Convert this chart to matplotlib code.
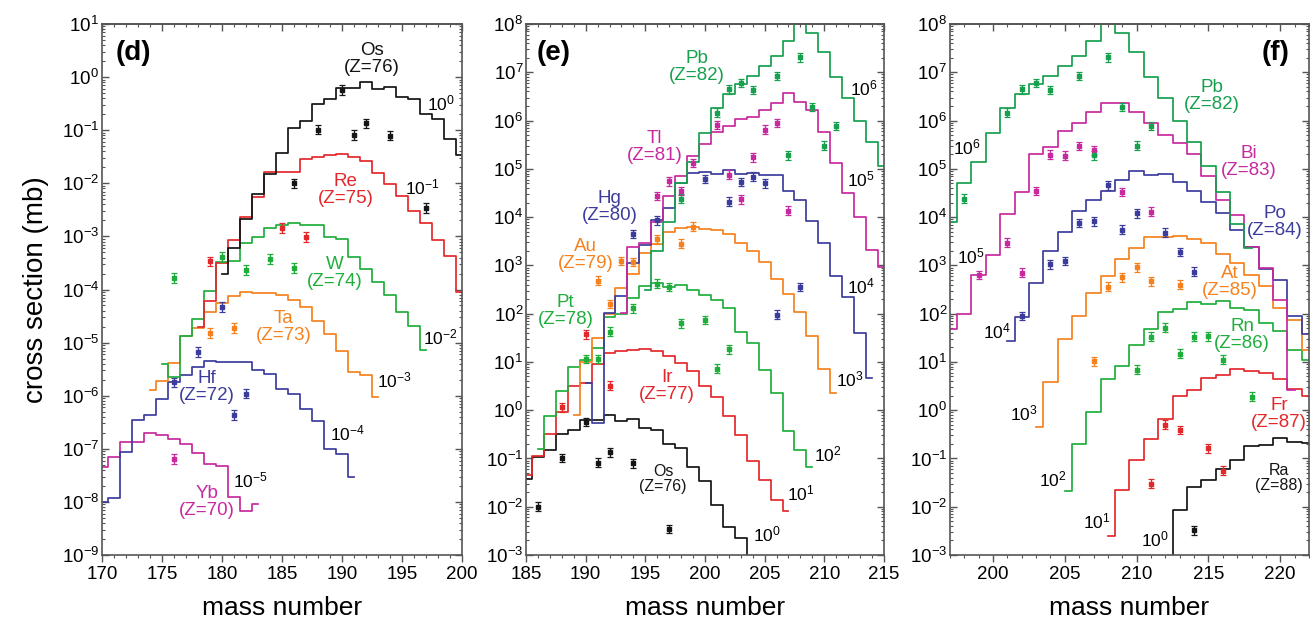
import numpy as np
import matplotlib
matplotlib.use("Agg")
import matplotlib.pyplot as plt
from matplotlib.ticker import LogLocator, MultipleLocator, NullFormatter

plt.rcParams['font.family'] = ['Liberation Sans', 'DejaVu Sans']
plt.rcParams['mathtext.fontset'] = 'custom'
plt.rcParams['mathtext.rm'] = 'Liberation Sans'
plt.rcParams['mathtext.it'] = 'Liberation Sans:italic'
plt.rcParams['mathtext.bf'] = 'Liberation Sans:bold'

# all values are log10(cross section / mb), unscaled
# calc: first mass number + one value per mass number, exp: measured points
os_a0 = 180
os_calc = [-3.70, -3.21, -2.67, -2.21, -1.82, -1.43, -0.96, -0.82, -0.50, -0.42, -0.21, -0.21, -0.10,
           -0.23, -0.18, -0.37, -0.41, -0.69, -0.79, -1.17, -1.47, -1.96, -2.41, -2.65, -3.6]
os_exp_a = [186, 188, 190, 191, 192, 194, 197]
os_exp = [-2.00, -0.99, -0.245, -1.09, -0.87, -1.10, -2.46]

re_a0 = 178
re_calc = [-3.71, -3.21, -2.50, -2.06, -1.64, -1.26, -0.79, -0.79, -0.79, -0.55, -0.50, -0.47, -0.45,
           -0.50, -0.58, -0.80, -1.02, -1.24, -1.52, -1.74, -2.06, -2.36, -3.05]
re_exp_a = [179, 185, 187]
re_exp = [-2.47, -1.84, -2.01]

w_a0 = 175
w_calc = [-3.40, -3.64, -2.87, -2.55, -2.02, -1.48, -1.47, -1.13, -1.01, -0.84, -0.79, -0.74, -0.79,
          -0.79, -1.02, -1.04, -1.39, -1.61, -1.86, -2.11, -2.42, -2.68, -3.13]
w_exp_a = [176, 180, 182, 184, 186]
w_exp = [-1.78, -1.39, -1.63, -1.43, -1.60]

ta_a0 = 174
ta_calc = [-2.89, -2.72, -2.39, -1.88, -1.73, -1.43, -1.25, -1.12, -1.05, -1.07, -1.07, -1.11, -1.19,
           -1.33, -1.60, -1.84, -2.16, -2.56, -2.61, -3.03]
ta_exp_a = [179, 181]
ta_exp = [-1.82, -1.73]

hf_a0 = 170
hf_calc = [-4.01, -3.92, -3.06, -2.46, -2.36, -2.06, -1.74, -1.61, -1.45, -1.35, -1.37, -1.37, -1.37,
           -1.52, -1.59, -1.87, -1.97, -2.25, -2.48, -3.01, -3.10, -3.54]
hf_exp_a = [176, 178, 180, 181, 182]
hf_exp = [-1.75, -1.18, -0.33, -2.36, -1.96]

yb_a0 = 170
yb_calc = [-2.35, -2.15, -1.87, -1.87, -1.71, -1.74, -1.82, -1.91, -2.07, -2.29, -2.32, -2.91, -3.17, -3.04]
yb_exp_a = [176]
yb_exp = [-2.19]

ir_a0 = 185
ir_calc = [-2.34, -1.94, -1.50, -1.03, -0.50, -0.44, -0.05, 0.18, 0.22, 0.25, 0.26, 0.22, 0.13,
           -0.03, -0.18, -0.49, -0.72, -1.12, -1.51, -2.06, -2.44, -2.86, -3.08]
ir_exp_a = [188, 190, 192]
ir_exp = [-0.94, 0.57, -0.49]

pt_a0 = 186
pt_calc = [-2.81, -2.12, -1.60, -1.10, -0.96, -0.71, -0.06, 0.00, 0.32, 0.58, 0.63, 0.55, 0.60,
           0.49, 0.39, 0.29, 0.11, -0.37, -0.61, -1.16, -1.65, -2.44, -2.82, -3.18]
pt_exp_a = [190, 191, 192, 194, 196, 197, 198, 200, 201, 202]
pt_exp = [-0.94, -0.94, -0.37, 0.11, 0.62, 0.55, -0.20, -0.13, -1.14, -0.74]

au_a0 = 189
au_calc = [-3.10, -2.01, -1.51, -1.00, -0.47, -0.18, 0.25, 0.45, 0.69, 0.77, 0.80, 0.76, 0.73,
           0.65, 0.47, 0.30, 0.08, -0.28, -0.59, -0.97, -1.46, -2.15, -2.64]
au_exp_a = [191, 192, 193, 194, 196, 198, 199]
au_exp = [-0.32, -0.80, 0.09, 0.07, 0.54, 0.45, 0.80]

hg_a0 = 190
hg_calc = [-3.43, -4.27, -1.99, -1.64, -0.96, -0.58, -0.06, 0.18, 0.71, 0.91, 0.93, 0.89, 0.98,
           0.89, 0.92, 0.87, 0.87, 0.55, 0.36, -0.08, -0.53, -1.23, -1.65, -2.41, -3.34]
hg_exp_a = [194, 196, 200, 202, 203, 204, 205, 206, 208]
hg_exp = [-0.35, -0.07, 0.79, 0.32, 0.73, 0.84, 0.70, -2.02, -1.45]

tl_a0 = 193
tl_calc = [-2.99, -1.61, -1.54, -1.11, -0.57, -0.14, 0.27, 0.52, 0.77, 0.89, 1.03, 1.08, 1.22,
           1.36, 1.58, 1.39, 1.22, 0.77, 0.13, -0.51, -0.99, -1.69, -2.04]
tl_exp_a = [196, 197, 198, 199, 201, 202, 203, 204, 205, 206, 207]
tl_exp = [-0.56, -0.26, -0.46, 0.12, 0.91, -0.12, -0.63, 0.24, 0.81, 0.95, -0.87]

pb_a0 = 195
pb_calc = [-3.5, -2.71, -2.10, -1.29, -0.85, -0.25, 0.25, 0.55, 0.75, 0.92, 1.12, 1.33, 1.64,
           2.6, 1.82, 1.42, 0.91, 0.47, 0.00, -0.44, -0.95, -1.49, -2.14, -2.63]
pb_exp_a = [198, 201, 202, 203, 204, 206, 207, 208, 209, 210, 211]
pb_exp = [-1.62, 0.16, 0.65, 0.78, 0.63, 0.92, -0.72, 1.31, 0.28, -0.52, -0.11]

bi_a0 = 197
bi_calc = [-3.31, -3.00, -2.19, -1.78, -0.94, -0.49, 0.31, 0.46, 0.78, 0.94, 1.18, 1.36, 1.36,
           1.18, 0.94, 0.70, 0.53, 0.30, -0.14, -0.64, -0.96, -1.61, -2.06, -2.71, -4.58]
bi_exp_a = [199, 201, 202, 203, 204, 205, 206, 207, 209, 211]
bi_exp = [-2.20, -1.53, -2.15, -0.46, 0.29, 0.27, 0.47, 0.38, -0.48, -0.89]

po_a0 = 201
po_calc = [-2.56, -2.07, -1.37, -0.70, -0.30, 0.13, 0.36, 0.55, 0.77, 0.96, 0.88, 0.89, 0.72,
           0.55, 0.32, 0.08, -0.26, -0.61, -1.08, -1.30, -2.04, -2.43]
po_exp_a = [202, 204, 205, 206, 207, 208, 209, 210, 212, 213, 214]
po_exp = [-2.05, -0.98, -0.91, -0.12, -0.09, 0.66, -0.26, 0.08, -0.32, -0.72, -1.13]

at_a0 = 203
at_calc = [-3.34, -2.41, -1.53, -1.05, -0.58, -0.23, 0.14, 0.37, 0.58, 0.58, 0.61, 0.54, 0.47,
           0.24, 0.05, -0.20, -0.43, -0.89, -1.13, -1.75]
at_exp_a = [207, 208, 209, 210, 211, 213]
at_exp = [-1.99, -0.44, -0.25, -0.04, -0.33, -0.40]

rn_a0 = 205
rn_calc = [-3.68, -2.71, -2.03, -1.35, -1.08, -0.64, -0.32, 0.03, 0.09, 0.25, 0.21, 0.26, 0.11,
           0.08, -0.20, -0.35, -0.76, -0.96]
rn_exp_a = [210, 211, 212, 213, 214, 215, 216, 218]
rn_exp = [-1.16, -0.48, -0.29, -0.83, -0.48, -0.47, -0.95, -1.72]

fr_a0 = 208
fr_calc = [-3.60, -2.65, -2.03, -1.60, -1.18, -0.71, -0.58, -0.34, -0.28, -0.15, -0.18, -0.23,
           -0.36, -0.57, -0.70]
fr_exp_a = [211, 212, 213, 215, 216]
fr_exp = [-2.52, -1.30, -1.41, -1.79, -2.25]

ra_a0 = 212
ra_calc = [-4.0, -2.06, -1.59, -1.44, -1.22, -1.03, -0.75, -0.72, -0.58, -0.65, -0.68]
ra_exp_a = [214]
ra_exp = [-2.49]

BLACK = '#151515'
RED = '#e3282b'
GREEN = '#1fae3c'
PBGREEN = '#17a04e'
ORANGE = '#f5821f'
BLUE = '#3c3c9c'
MAGENTA = '#c72a9e'

nuclei = {
    'Os': (os_a0, os_calc, os_exp_a, os_exp, BLACK),
    'Re': (re_a0, re_calc, re_exp_a, re_exp, RED),
    'W': (w_a0, w_calc, w_exp_a, w_exp, GREEN),
    'Ta': (ta_a0, ta_calc, ta_exp_a, ta_exp, ORANGE),
    'Hf': (hf_a0, hf_calc, hf_exp_a, hf_exp, BLUE),
    'Yb': (yb_a0, yb_calc, yb_exp_a, yb_exp, MAGENTA),
    'Ir': (ir_a0, ir_calc, ir_exp_a, ir_exp, RED),
    'Pt': (pt_a0, pt_calc, pt_exp_a, pt_exp, GREEN),
    'Au': (au_a0, au_calc, au_exp_a, au_exp, ORANGE),
    'Hg': (hg_a0, hg_calc, hg_exp_a, hg_exp, BLUE),
    'Tl': (tl_a0, tl_calc, tl_exp_a, tl_exp, MAGENTA),
    'Pb': (pb_a0, pb_calc, pb_exp_a, pb_exp, PBGREEN),
    'Bi': (bi_a0, bi_calc, bi_exp_a, bi_exp, MAGENTA),
    'Po': (po_a0, po_calc, po_exp_a, po_exp, BLUE),
    'At': (at_a0, at_calc, at_exp_a, at_exp, ORANGE),
    'Rn': (rn_a0, rn_calc, rn_exp_a, rn_exp, GREEN),
    'Fr': (fr_a0, fr_calc, fr_exp_a, fr_exp, RED),
    'Ra': (ra_a0, ra_calc, ra_exp_a, ra_exp, BLACK),
}

ERR = 10 ** 0.09  # error bar half-size as factor
SPINE = '#555555'


def draw(ax, name, scale):
    a0, calc, exp_a, exp, col = nuclei[name]
    a = np.arange(a0, a0 + len(calc))
    ax.step(a, scale * 10.0 ** np.asarray(calc), where='mid', color=col, lw=1.25, zorder=2)
    y = scale * 10.0 ** np.asarray(exp)
    ax.errorbar(exp_a, y, yerr=[y * (1 - 1 / ERR), y * (ERR - 1)], fmt='s', ms=3.0,
                color=col, elinewidth=0.9, capsize=2.4, capthick=0.9, zorder=3)


def elabel(ax, x, logy, text, color, size=13.5):
    ax.text(x, 10.0 ** logy, text, color=color, fontsize=size, ha='center', va='center',
            linespacing=1.0, zorder=4)


def slabel(ax, x, logy, e):
    ax.text(x, 10.0 ** logy, r'$\mathdefault{10^{%d}}$' % e, fontsize=12.5, ha='left',
            va='center', zorder=4)


def setup(ax, xlim, ylim):
    ax.set_yscale('log')
    ax.set_xlim(*xlim)
    ax.set_ylim(*ylim)
    ax.xaxis.set_major_locator(MultipleLocator(5))
    ax.xaxis.set_minor_locator(MultipleLocator(1))
    ax.yaxis.set_major_locator(LogLocator(base=10, numticks=30))
    ax.yaxis.set_minor_locator(LogLocator(base=10, subs=np.arange(2, 10), numticks=30))
    ax.yaxis.set_minor_formatter(NullFormatter())
    for s in ax.spines.values():
        s.set_color(SPINE)
        s.set_linewidth(1.2)
    ax.tick_params(axis='x', which='both', direction='out', colors=SPINE, labelcolor='black',
                   labelsize=13.5, pad=3)
    ax.tick_params(axis='y', which='both', direction='in', left=True, right=True, colors=SPINE,
                   labelcolor='black', labelsize=13.5, pad=2)
    ax.tick_params(which='major', length=5, width=1)
    ax.tick_params(which='minor', length=2.5, width=0.8)
    top = ax.secondary_xaxis('top')
    top.xaxis.set_major_locator(MultipleLocator(5))
    top.xaxis.set_minor_locator(MultipleLocator(1))
    top.xaxis.set_major_formatter(NullFormatter())
    top.tick_params(which='both', direction='in', colors=SPINE)
    top.tick_params(which='major', length=5, width=1)
    top.tick_params(which='minor', length=2.5, width=0.8)
    top.spines['top'].set_color(SPINE)
    top.spines['top'].set_linewidth(1.2)
    ax.text(0.5, -0.1, 'mass number', transform=ax.transAxes, ha='center', va='center',
            fontsize=19)


fig = plt.figure(figsize=(13.15, 6.22), dpi=100)
ax_d = fig.add_axes([0.0776, 0.1077, 0.2738, 0.8537])
ax_e = fig.add_axes([0.4000, 0.1077, 0.2722, 0.8537])
ax_f = fig.add_axes([0.7224, 0.1077, 0.2730, 0.8537])

# panel (d)
setup(ax_d, (170, 200), (1e-9, 10))
for name, sc in [('Yb', 1e-5), ('Hf', 1e-4), ('Ta', 1e-3), ('W', 1e-2), ('Re', 1e-1), ('Os', 1)]:
    draw(ax_d, name, sc)
ax_d.text(171.1, 10 ** 0.45, '(d)', fontsize=20, fontweight='bold', ha='left', va='center')
elabel(ax_d, 192.5, 0.34, 'Os\n(Z=76)', BLACK)
elabel(ax_d, 190.3, -2.13, 'Re\n(Z=75)', RED)
elabel(ax_d, 189.4, -3.68, 'W\n(Z=74)', GREEN)
elabel(ax_d, 185.1, -4.70, 'Ta\n(Z=73)', ORANGE)
elabel(ax_d, 178.75, -5.83, 'Hf\n(Z=72)', BLUE)
elabel(ax_d, 178.75, -8.0, 'Yb\n(Z=70)', MAGENTA)
for x, ly, e in [(197.06, -0.50, 0), (195.25, -2.07, -1), (196.72, -4.90, -2),
                 (192.9, -5.72, -3), (189.0, -6.72, -4), (180.9, -7.60, -5)]:
    slabel(ax_d, x, ly, e)

# panel (e)
setup(ax_e, (185, 215), (1e-3, 1e8))
for name, sc in [('Os', 1), ('Ir', 1e1), ('Pt', 1e2), ('Au', 1e3), ('Hg', 1e4), ('Tl', 1e5),
                 ('Pb', 1e6)]:
    draw(ax_e, name, sc)
ax_e.text(185.9, 10 ** 7.40, '(e)', fontsize=20, fontweight='bold', ha='left', va='center')
elabel(ax_e, 199.33, 7.11, 'Pb\n(Z=82)', PBGREEN)
elabel(ax_e, 195.8, 5.45, 'Tl\n(Z=81)', MAGENTA)
elabel(ax_e, 192.0, 4.21, 'Hg\n(Z=80)', BLUE)
elabel(ax_e, 190.0, 3.22, 'Au\n(Z=79)', ORANGE)
elabel(ax_e, 188.3, 2.06, 'Pt\n(Z=78)', GREEN)
elabel(ax_e, 196.8, 0.505, 'Ir\n(Z=77)', RED)
elabel(ax_e, 196.5, -1.42, 'Os\n(Z=76)', BLACK, size=11.5)
for x, ly, e in [(212.16, 6.67, 6), (211.9, 4.77, 5), (211.9, 2.56, 4), (211.0, 0.63, 3),
                 (209.1, -0.92, 2), (206.85, -1.72, 1), (204.05, -2.58, 0)]:
    slabel(ax_e, x, ly, e)

# panel (f)
setup(ax_f, (197, 222), (1e-3, 1e8))
for name, sc in [('Ra', 1), ('Fr', 1e1), ('Rn', 1e2), ('At', 1e3), ('Po', 1e4), ('Bi', 1e5),
                 ('Pb', 1e6)]:
    draw(ax_f, name, sc)
ax_f.text(218.72, 10 ** 7.40, '(f)', fontsize=20, fontweight='bold', ha='left', va='center')
elabel(ax_f, 215.26, 6.51, 'Pb\n(Z=82)', PBGREEN)
elabel(ax_f, 217.84, 5.14, 'Bi\n(Z=83)', MAGENTA)
elabel(ax_f, 219.65, 3.90, 'Po\n(Z=84)', BLUE)
elabel(ax_f, 216.5, 2.66, 'At\n(Z=85)', ORANGE)
elabel(ax_f, 217.35, 1.56, 'Rn\n(Z=86)', GREEN)
elabel(ax_f, 219.93, -0.07, 'Fr\n(Z=87)', RED)
elabel(ax_f, 219.93, -1.40, 'Ra\n(Z=88)', BLACK, size=11.5)
for x, ly, e in [(197.23, 5.45, 6), (197.5, 3.18, 5), (199.32, 1.63, 4), (201.18, -0.06, 3),
                 (203.22, -1.44, 2), (206.25, -2.30, 1), (210.29, -2.68, 0)]:
    slabel(ax_f, x, ly, e)

fig.text(0.027, 0.534, 'cross section (mb)', rotation=90, ha='center', va='center', fontsize=20)

fig.savefig('out.png', dpi=100)
